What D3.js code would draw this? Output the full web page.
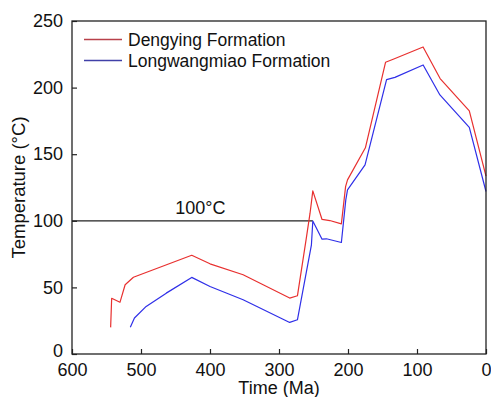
<!DOCTYPE html>
<html><head><meta charset="utf-8">
<script src="https://cdn.jsdelivr.net/npm/d3@7/dist/d3.min.js"></script>
<style>body{margin:0;background:#fff}svg{display:block}text{font-family:Arial,"Liberation Sans",sans-serif;fill:#111}</style>
</head><body>
<script>
const xTicks = [600, 500, 400, 300, 200, 100, 0];
const yTicks = [0, 50, 100, 150, 200, 250];
const seriesNames = ["Dengying Formation", "Longwangmiao Formation"];
const dengyingAge  = [544, 542.5, 530.5, 523, 511, 426.5, 400, 352, 284.5, 273.3, 260.8, 255, 251, 237.6, 226.4, 209.6, 203.5, 200.7, 174.8, 145.6, 134.5, 91.2, 66.5, 24.2, 0];
const dengyingTemp = [20, 41.8, 38.8, 52, 57.6, 74.1, 67.7, 59.5, 42, 43.7, 85.7, 105.7, 122.5, 101, 100.2, 97.7, 125.7, 130.7, 154.8, 219, 221.3, 230.5, 206.8, 182.5, 133.5];
const longwangAge  = [515.5, 509.5, 492.5, 463.4, 426.5, 400, 352, 284.5, 273.3, 253, 251, 237.6, 231.3, 209.6, 203.2, 200.7, 175.3, 144.1, 132, 91.1, 66.8, 24.2, 0];
const longwangTemp = [20, 27, 35.7, 45.7, 57.5, 50.7, 40.7, 23.7, 25.7, 82, 99.8, 86.2, 86.5, 83.7, 115.7, 123.2, 142, 206, 207.7, 217, 194.5, 170.2, 122];
const refLineTemp = 100;
const refLineEnd = 251;
const refLabel = "100°C";
const refLabelAge = 414;

const W = 491, H = 397;
const m = {l: 72, r: 5, t: 21, b: 43};
const svg = d3.select("body").append("svg").attr("width", W).attr("height", H);
const x = d3.scaleLinear().domain([600, 0]).range([m.l, W - m.r]);
const y = d3.scaleLinear().domain([0, 250]).range([H - m.b, m.t]);

// reference line
svg.append("line")
  .attr("x1", x(600)).attr("x2", x(refLineEnd))
  .attr("y1", y(refLineTemp)).attr("y2", y(refLineTemp))
  .attr("stroke", "#222").attr("stroke-width", 1.2);
svg.append("text").attr("x", x(refLabelAge)).attr("y", y(refLineTemp) - 7)
  .attr("text-anchor", "middle").attr("font-size", 18).text(refLabel);

const line = d3.line().x(d => x(d[0])).y(d => y(d[1]));
const dData = dengyingAge.map((a, i) => [a, dengyingTemp[i]]);
const lData = longwangAge.map((a, i) => [a, longwangTemp[i]]);
const colors = ["#e8302f", "#2f2fe8"];
const legColors = ["#b8404a", "#4040a8"];
[dData, lData].forEach((d, i) => {
  svg.append("path").datum(d).attr("d", line).attr("fill", "none")
    .attr("stroke", colors[i]).attr("stroke-width", 1.2).attr("stroke-linejoin", "round");
});

// axes
const xAxis = d3.axisBottom(x).tickValues(xTicks).tickSize(-5).tickPadding(9).tickFormat(d3.format("d"));
const yAxis = d3.axisLeft(y).tickValues(yTicks).tickSize(-5).tickPadding(9).tickFormat(d3.format("d"));
const gx = svg.append("g").attr("transform", `translate(0,${H - m.b})`).call(xAxis);
const gy = svg.append("g").attr("transform", `translate(${m.l},0)`).call(yAxis);
[gx, gy].forEach(g => {
  g.select(".domain").remove();
  g.selectAll(".tick line").attr("stroke", "#222").attr("stroke-width", 1.2);
  g.selectAll(".tick text").attr("font-size", 18).attr("fill", "#111")
    .style("font-family", "Arial, 'Liberation Sans', sans-serif");
});
gx.selectAll(".tick text").attr("dy", "0.71em");
gy.selectAll(".tick text").attr("dy", d => d === 0 ? "0.12em" : "0.32em");
// frame
svg.append("rect").attr("x", m.l).attr("y", m.t)
  .attr("width", W - m.r - m.l).attr("height", H - m.b - m.t)
  .attr("fill", "none").attr("stroke", "#222").attr("stroke-width", 1.3);

// axis titles
svg.append("text").attr("x", (m.l + W - m.r) / 2).attr("y", 394)
  .attr("text-anchor", "middle").attr("font-size", 18).text("Time (Ma)");
svg.append("text").attr("transform", `translate(25,${(m.t + H - m.b) / 2}) rotate(-90)`)
  .attr("text-anchor", "middle").attr("font-size", 18.5).text("Temperature (°C)");

// legend
seriesNames.forEach((n, i) => {
  const yy = 39.5 + i * 21;
  svg.append("line").attr("x1", 84).attr("x2", 122).attr("y1", yy).attr("y2", yy)
    .attr("stroke", legColors[i]).attr("stroke-width", 1.3);
  svg.append("text").attr("x", 128).attr("y", yy + 6).attr("font-size", 17.5).text(n);
});
</script>
</body></html>
